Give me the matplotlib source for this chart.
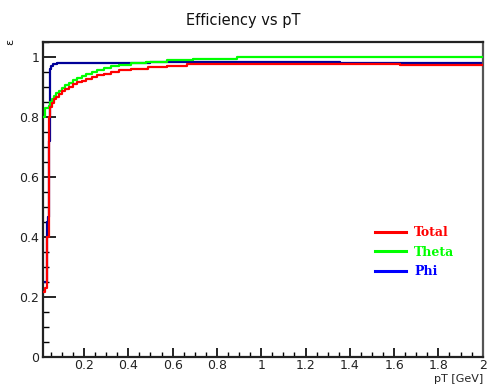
import matplotlib
matplotlib.use("Agg")
import matplotlib.pyplot as plt
from matplotlib.ticker import MultipleLocator
from matplotlib.lines import Line2D

# Step curves (x = bin start, value holds until next x)
total_x = [0.016, 0.024, 0.033, 0.042, 0.046, 0.055, 0.065, 0.075, 0.085, 0.10, 0.115, 0.13,
           0.15, 0.17, 0.19, 0.21, 0.235, 0.26, 0.29, 0.32, 0.36, 0.41, 0.49, 0.575, 0.665,
           1.627, 2.0]
total_y = [0.217, 0.228, 0.40, 0.80, 0.833, 0.845, 0.857, 0.866, 0.874, 0.884, 0.892, 0.899,
           0.907, 0.914, 0.920, 0.926, 0.932, 0.938, 0.943, 0.949, 0.954, 0.959, 0.964, 0.970,
           0.975, 0.973, 0.973]

theta_x = [0.016, 0.022, 0.040, 0.045, 0.055, 0.065, 0.075, 0.085, 0.10, 0.115, 0.13, 0.15,
           0.17, 0.19, 0.21, 0.235, 0.26, 0.29, 0.32, 0.36, 0.41, 0.48, 0.575, 0.69, 0.89,
           1.64, 2.0]
theta_y = [0.80, 0.828, 0.835, 0.848, 0.858, 0.868, 0.877, 0.885, 0.895, 0.904, 0.912, 0.921,
           0.928, 0.935, 0.942, 0.949, 0.955, 0.961, 0.967, 0.972, 0.977, 0.982, 0.990, 0.993,
           0.997, 1.0, 1.0]

phi_x = [0.016, 0.031, 0.035, 0.040, 0.046, 0.052, 0.06, 0.08, 0.2, 0.5, 1.356, 2.0]
phi_y = [0.25, 0.45, 0.467, 0.72, 0.957, 0.970, 0.975, 0.978, 0.980, 0.981, 0.977, 0.977]

labels = ["Total", "Theta", "Phi"]

W, H = 487, 385
fig = plt.figure(figsize=(W / 100, H / 100), dpi=100)
ax = fig.add_axes([43.3 / W, (H - 356.7) / H, (482.7 - 43.3) / W, (356.7 - 41.5) / H])

ax.plot(phi_x, phi_y, drawstyle="steps-post", color="#000099", lw=1.6, zorder=2)
ax.plot(theta_x, theta_y, drawstyle="steps-post", color="#00ff00", lw=1.6, zorder=3)
ax.plot(total_x, total_y, drawstyle="steps-post", color="#ff0000", lw=1.6, zorder=4)

ax.set_xlim(0.016, 2.0)
ax.set_ylim(0, 1.05)
ax.xaxis.set_minor_locator(MultipleLocator(0.05))
ax.yaxis.set_minor_locator(MultipleLocator(0.05))
ax.set_xticks([0.2, 0.4, 0.6, 0.8, 1.0, 1.2, 1.4, 1.6, 1.8, 2.0])
ax.set_xticklabels(["0.2", "0.4", "0.6", "0.8", "1", "1.2", "1.4", "1.6", "1.8", "2"])
ax.set_yticks([0, 0.2, 0.4, 0.6, 0.8, 1.0])
ax.set_yticklabels(["0", "0.2", "0.4", "0.6", "0.8", "1"])

ax.tick_params(axis="y", which="major", direction="in", length=9, width=1.2, labelsize=9,
               labelcolor="#222222", pad=3)
ax.tick_params(axis="y", which="minor", direction="in", length=4.5, width=1.0)
ax.tick_params(axis="x", which="major", direction="in", length=6.5, width=1.2, labelsize=9,
               labelcolor="#222222", pad=2)
ax.tick_params(axis="x", which="minor", direction="in", length=3.5, width=1.0)

for s in ["left", "bottom", "top"]:
    ax.spines[s].set_linewidth(1.6)
    ax.spines[s].set_color("#222222")
ax.spines["right"].set_linewidth(1.6)
ax.spines["right"].set_color("#555555")

fig.text(243.5 / W, 1 - 20 / H, "Efficiency vs pT", ha="center", va="center", fontsize=10.5,
         color="#111111")
fig.text(10 / W, 1 - 42 / H, "ε", ha="center", va="center", fontsize=8, rotation=90,
         color="#111111")
fig.text(483 / W, 1 - 379.5 / H, "pT [GeV]", ha="right", va="center", fontsize=8,
         color="#222222")

handles = [Line2D([], [], color=c, lw=2.2) for c in ["#ff0000", "#00ff00", "#0000ff"]]
leg = ax.legend(handles, labels, loc="upper left", bbox_to_anchor=(375 / W, 1 - 226.5 / H),
                bbox_transform=fig.transFigure, frameon=False, handlelength=2.5,
                handletextpad=0.65, labelspacing=0.5, borderaxespad=0, borderpad=0,
                prop={"family": "DejaVu Serif", "weight": "bold", "size": 9})
for t, c in zip(leg.get_texts(), ["#ff0000", "#00ff00", "#0000ff"]):
    t.set_color(c)

fig.savefig("out.png", dpi=100)
